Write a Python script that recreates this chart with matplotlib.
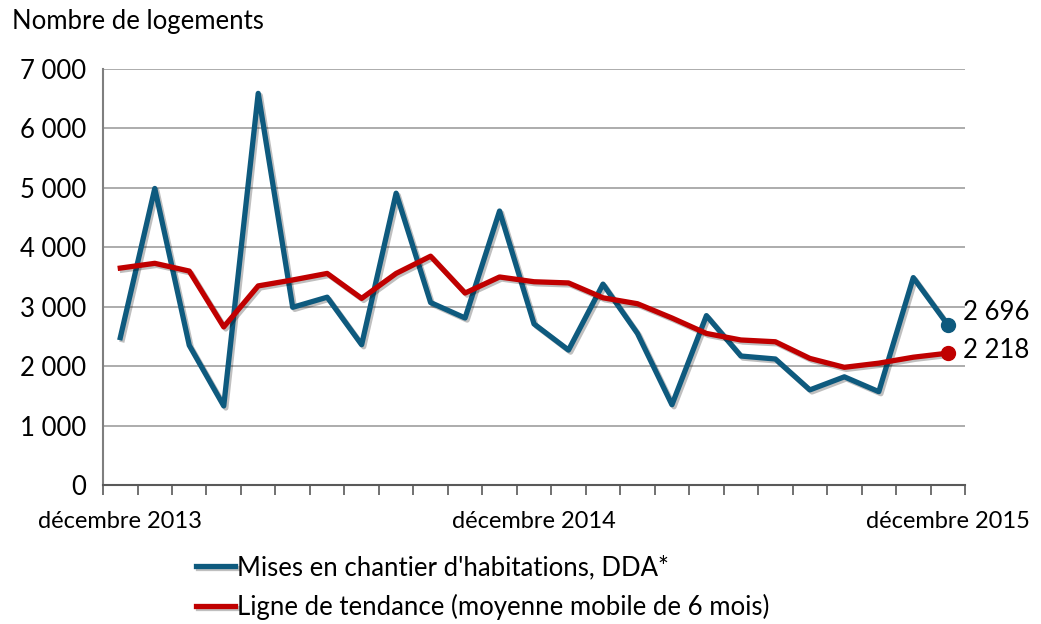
import matplotlib
matplotlib.use("Agg")
import matplotlib.pyplot as plt
import matplotlib.patheffects as pe
import matplotlib.ticker as mticker
import numpy as np

plt.rcParams['font.family'] = ['Lato', 'DejaVu Sans']

# mises en chantier, déc. 2013 -> déc. 2015 (mensuel)
mises = [2480, 4990, 2350, 1330, 6590, 2990, 3160, 2360, 4910, 3070,
         2810, 4610, 2710, 2270, 3380, 2550, 1350, 2850, 2170, 2120,
         1600, 1820, 1570, 3490, 2696]
tendance = [3650, 3730, 3600, 2660, 3350, 3450, 3560, 3140, 3560, 3850,
            3230, 3500, 3420, 3400, 3150, 3050, 2810, 2550, 2440, 2410,
            2130, 1980, 2050, 2150, 2218]
mois_labels = ['décembre 2013', 'décembre 2014', 'décembre 2015']
mois_pos = [0, 12, 24]

bleu = '#0e5a7e'
rouge = '#c00000'

fig = plt.figure(figsize=(10.41, 6.24), dpi=100)
ax = fig.add_axes([0.099, 0.2228, 0.828, 0.6666])

x = np.arange(len(mises))
ombre = [pe.SimpleLineShadow(offset=(1.5, -1.5), alpha=0.25, shadow_color='black'), pe.Normal()]

ax.plot(x, mises, color=bleu, lw=3.8, path_effects=ombre,
        label="Mises en chantier d'habitations, DDA*", zorder=3)
ax.plot(x, tendance, color=rouge, lw=3.8, path_effects=ombre,
        label='Ligne de tendance (moyenne mobile de 6 mois)', zorder=4)
ax.plot(x[-1], mises[-1], 'o', color=bleu, ms=10, zorder=5)
ax.plot(x[-1], tendance[-1], 'o', color=rouge, ms=10, zorder=5)

def fmt(v):
    return f'{int(v):,}'.replace(',', ' ')

ax.text(x[-1] + 0.45, mises[-1] + 200, fmt(mises[-1]), fontsize=18.5, va='center', ha='left')
ax.text(x[-1] + 0.45, tendance[-1] + 50, fmt(tendance[-1]), fontsize=18.5, va='center', ha='left')

ax.set_xlim(-0.5, len(mises) - 0.5)
ax.set_ylim(0, 7000)
ax.set_yticks(range(0, 7001, 1000))
ax.yaxis.set_major_formatter(mticker.FuncFormatter(lambda v, p: fmt(v)))
ax.grid(axis='y', color='#a6a6a6', lw=1.3)
ax.set_axisbelow(True)

ax.set_xticks(np.arange(-0.5, len(mises), 1))
ax.set_xticklabels([])
ax.set_xticks(mois_pos, minor=True)
ax.set_xticklabels(mois_labels, minor=True, fontsize=17)
ax.tick_params(axis='x', which='major', length=7, width=1.2, color='#595959', direction='out')
ax.tick_params(axis='x', which='minor', length=0, pad=19)
ax.tick_params(axis='y', length=0, labelsize=18.5, pad=12)

for s in ['top', 'right']:
    ax.spines[s].set_visible(False)
ax.spines['left'].set_color('#7f7f7f')
ax.spines['left'].set_linewidth(1.5)
ax.spines['bottom'].set_color('#595959')
ax.spines['bottom'].set_linewidth(1.5)

fig.text(0.012, 0.965, 'Nombre de logements', fontsize=18.5, va='center', ha='left')

leg = fig.legend(loc='upper left', bbox_to_anchor=(0.178, 0.127), frameon=False,
                 fontsize=18.5, handlelength=1.55, handletextpad=0.05, labelspacing=0.55,
                 borderaxespad=0)

fig.savefig('out.png', dpi=100)
